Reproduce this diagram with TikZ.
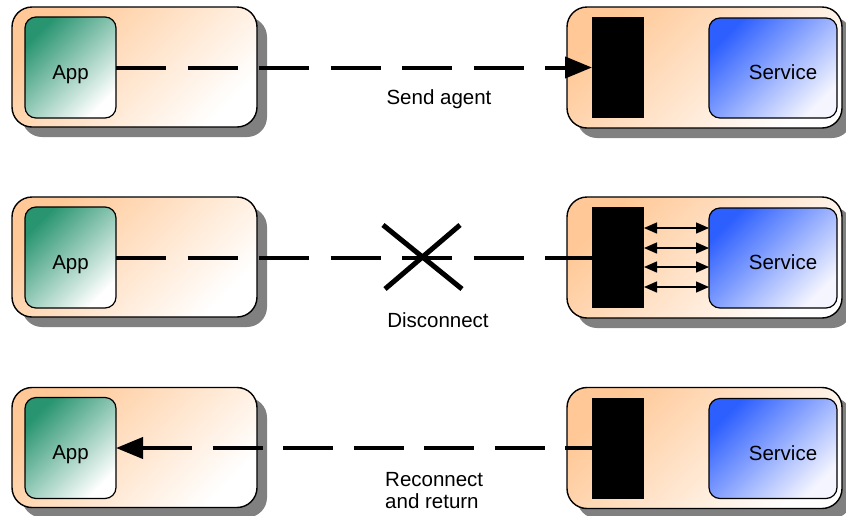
\documentclass[tikz,border=0pt]{standalone}
\usepackage{fontspec}
\setmainfont{Liberation Sans}
\usetikzlibrary{shadows,arrows.meta,calc}
\definecolor{peach}{RGB}{255,200,150}
\definecolor{appgreen}{RGB}{40,148,112}
\definecolor{svcblue}{RGB}{45,95,255}
\definecolor{svcpale}{RGB}{244,245,255}
\begin{document}
\begin{tikzpicture}[x=1pt,y=-1pt,
  lbl/.style={font=\fontsize{20.5}{22}\selectfont, inner sep=0pt},
  outerbase/.style={draw=black, line width=1.4pt, rounded corners=20pt,
    inner sep=0pt, outer sep=0pt,
    drop shadow={shadow xshift=10pt, shadow yshift=-10pt, fill=black!50, opacity=1}},
  outerbox/.style={outerbase, minimum width=245pt, minimum height=120pt,
    top color=peach, bottom color=white, shading angle=45},
  outerwide/.style={outerbase, minimum width=275pt, minimum height=121pt,
    top color=peach, bottom color=white, shading angle=45},
  innerbox/.style={draw=black, line width=1.2pt, rounded corners=11pt,
    inner sep=0pt, outer sep=0pt,
    font=\fontsize{20.5}{22}\selectfont, text height=23pt, text depth=0pt},
  appbox/.style={innerbox, minimum width=91pt, minimum height=101pt,
    top color=appgreen, bottom color=white, shading angle=45},
  svcbox/.style={innerbox, minimum width=128pt, minimum height=100pt,
    top color=svcblue, bottom color=svcpale, shading angle=45},
  barbox/.style={fill=black, draw=none, minimum width=52pt, minimum height=101pt,
    inner sep=0pt, outer sep=0pt},
  dashline/.style={line width=4pt, dash pattern=on 50pt off #1},
  dashline/.default=21.5pt,
  smallarrow/.style={line width=1.4pt, {Triangle[length=13pt,width=11pt]}-{Triangle[length=13pt,width=11pt]}},
  crossline/.style={line width=5pt}
]
\useasboundingbox (0,0) rectangle (846,515);
\foreach \i/\ry in {1/0,2/190,3/380.5}{
  \node[outerbox] (L\i) at (134.5,67+\ry) {};
  \node[outerwide] (R\i) at (704.5,67.5+\ry) {};
  \node[appbox] (app\i) at (70.5,67.5+\ry) {App};
  \node[barbox] (bar\i) at (618,67.5+\ry) {};
  \node[svcbox] (svc\i) at (773,68+\ry) {\hspace*{20pt}Service};
}
% row 1: send agent
\draw[dashline, -{Triangle[length=27pt,width=21pt]}] (app1.east) -- (bar1.west);
\node[lbl, anchor=base] (t1) at (439,104) {Send agent};
% row 2: disconnect
\draw[dashline] (app2.east) -- (bar2.west);
\coordinate (xa) at (383,225);
\coordinate (xb) at (462,289);
\coordinate (xc) at (460,225);
\coordinate (xd) at (385,289);
\draw[crossline] (xa) -- (xb);
\draw[crossline] (xc) -- (xd);
\foreach \s in {29.5,9.5,-9.5,-29.5}{
  \draw[smallarrow] ([yshift=\s pt]bar2.east) -- ([yshift=\s pt]bar2.east -| svc2.west);
}
\node[lbl, anchor=base] (t2) at (438,327) {Disconnect};
% row 3: reconnect and return
\draw[dashline=20.5pt, {Triangle[length=27pt,width=21pt]}-] (app3.east) -- (bar3.west);
\node[lbl, anchor=north west, align=left] (t3) at (385,472) {Reconnect\\and return};
\end{tikzpicture}
\end{document}
